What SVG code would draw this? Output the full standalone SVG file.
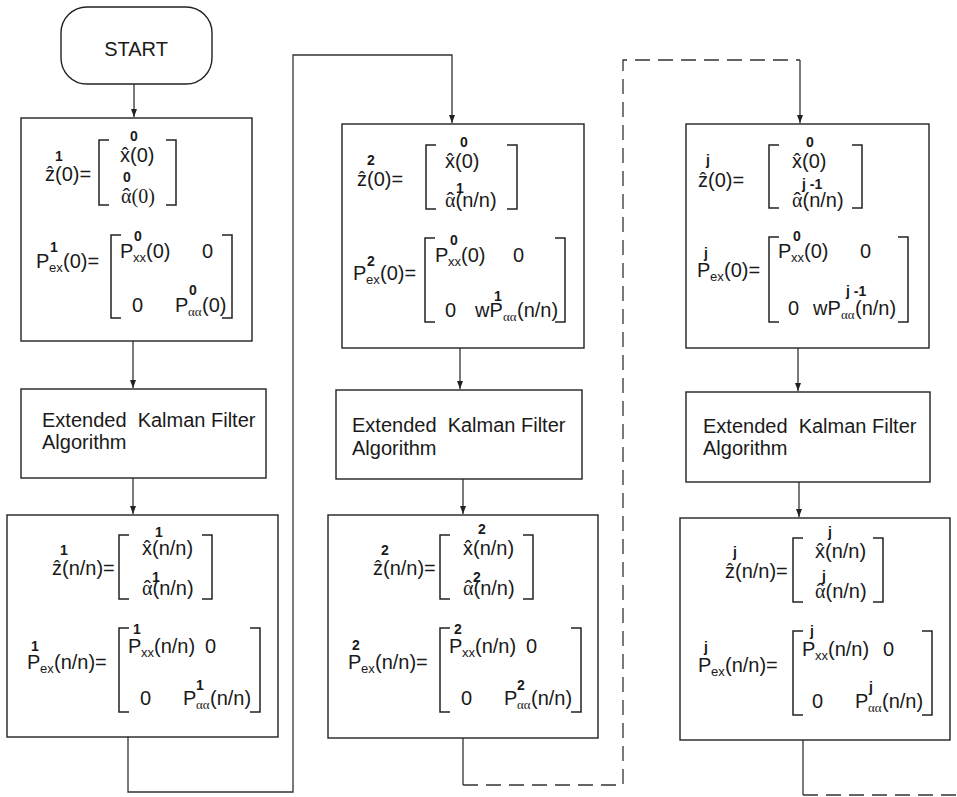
<svg xmlns="http://www.w3.org/2000/svg" width="957" height="797" viewBox="0 0 957 797">
<style>
text{font-family:"Liberation Sans",Arial,sans-serif;fill:#1a1a1a;font-size:20px}
.h{font-size:22px;font-family:"Liberation Sans",Arial,sans-serif}
.s{font-size:14px;font-weight:bold;font-family:"Liberation Sans",Arial,sans-serif}
.b{font-size:13px}
.g{font-family:"Liberation Serif","Times New Roman",serif}
.box{fill:#fff;stroke:#222;stroke-width:1.4}
.br{fill:none;stroke:#222;stroke-width:1.5}
.ln{fill:none;stroke:#333;stroke-width:1.3}
.da{stroke-dasharray:15 8}
</style>
<defs>
<marker id="ah" markerUnits="userSpaceOnUse" markerWidth="8" markerHeight="8" refX="8" refY="3" orient="auto">
<path d="M0,0 L8,3 L0,6 z" fill="#222"/>
</marker>
</defs>

<g id="connectors">
<path class="ln" d="M134,84 V117" marker-end="url(#ah)"/>
<path class="ln" d="M133,341 V388" marker-end="url(#ah)"/>
<path class="ln" d="M133,478 V514" marker-end="url(#ah)"/>
<path class="ln" d="M128,737 V792 H293 V55 H452 V123" marker-end="url(#ah)"/>
<path class="ln" d="M460,348 V389" marker-end="url(#ah)"/>
<path class="ln" d="M463,479 V514" marker-end="url(#ah)"/>
<path class="ln" d="M463,738 V785"/>
<path class="ln da" d="M463,785 H623 V60 H800"/>
<path class="ln" d="M800,60 V123" marker-end="url(#ah)"/>
<path class="ln" d="M798,348 V391" marker-end="url(#ah)"/>
<path class="ln" d="M799,482 V517" marker-end="url(#ah)"/>
<path class="ln" d="M803,740 V795"/>
<path class="ln da" d="M803,795 H957"/>
</g>

<g id="start">
<rect class="box" x="61" y="7" width="151" height="77" rx="26" ry="26"/>
<text x="136" y="56" font-size="19" text-anchor="middle">START</text>
</g>

<g id="init1" transform="translate(21,118)">
<rect class="box" x="0" y="0" width="231" height="223"/>
<text x="24" y="63">z&#x302;(0)=<tspan class="s" x="34" y="43">1</tspan></text>
<path class="br" d="M88,22 H78 V87 H88"/>
<path class="br" d="M145,22 H155 V87 H145"/>
<text x="99" y="44">x&#x302;(0)<tspan class="s" x="109" y="23">0</tspan></text>
<text class="g" x="100" y="85">α(0)<tspan class="h" x="101.8" y="86">ˆ</tspan><tspan class="s" x="102" y="64">0</tspan></text>
<text x="15" y="150">P<tspan class="s" x="29" y="134">1</tspan><tspan class="b" x="28" y="154">ex</tspan><tspan x="42" y="150">(0)=</tspan></text>
<path class="br" d="M100,117 H90 V200 H100"/>
<path class="br" d="M201,117 H211 V200 H201"/>
<text x="99" y="140">P<tspan class="s" x="113" y="123">0</tspan><tspan class="b" x="112" y="144">xx</tspan><tspan x="125" y="140">(0)</tspan></text>
<text x="181" y="140">0</text>
<text x="111" y="194">0</text>
<text x="154" y="194">P<tspan class="s" x="168" y="177">0</tspan><tspan class="b g" x="167" y="198">αα</tspan><tspan x="181" y="194">(0)</tspan></text>
</g>

<g id="ekf1">
<rect class="box" x="21" y="389" width="245" height="89"/>
<text x="42" y="427" xml:space="preserve">Extended  Kalman Filter</text>
<text x="42" y="449">Algorithm</text>
</g>

<g id="result1" transform="translate(7,515)">
<rect class="box" x="0" y="0" width="271" height="222"/>
<text x="45" y="60">z&#x302;(n/n)=<tspan class="s" x="53" y="40">1</tspan></text>
<path class="br" d="M122,20 H112 V84 H122"/>
<path class="br" d="M195,20 H205 V84 H195"/>
<text x="135" y="40">x&#x302;(n/n)<tspan class="s" x="148" y="22">1</tspan></text>
<text x="135" y="80"><tspan class="g">α</tspan>(n/n)<tspan class="h" x="136.8" y="81">ˆ</tspan><tspan class="s" x="145" y="67">1</tspan></text>
<text x="20" y="154">P<tspan class="s" x="24" y="136">1</tspan><tspan class="b" x="33" y="158">ex</tspan><tspan x="47" y="154">(n/n)=</tspan></text>
<path class="br" d="M122,113 H112 V197 H122"/>
<path class="br" d="M243,113 H253 V197 H243"/>
<text x="121" y="138">P<tspan class="s" x="126" y="119">1</tspan><tspan class="b" x="134" y="142">xx</tspan><tspan x="147" y="138">(n/n)</tspan></text>
<text x="198" y="138">0</text>
<text x="133" y="190">0</text>
<text x="176" y="190">P<tspan class="s" x="189" y="175">1</tspan><tspan class="b g" x="189" y="194">αα</tspan><tspan x="203" y="190">(n/n)</tspan></text>
</g>

<g id="init2" transform="translate(342,124)">
<rect class="box" x="0" y="0" width="242" height="224"/>
<text x="15" y="62">z&#x302;(0)=<tspan class="s" x="25" y="41">2</tspan></text>
<path class="br" d="M94,21 H84 V85 H94"/>
<path class="br" d="M165,21 H175 V85 H165"/>
<text x="103" y="44">x&#x302;(0)<tspan class="s" x="118" y="23">0</tspan></text>
<text x="103" y="83"><tspan class="g">α</tspan>(n/n)<tspan class="h" x="104.8" y="84">ˆ</tspan><tspan class="s" x="114" y="69">1</tspan></text>
<text x="11" y="156">P<tspan class="s" x="25" y="142">2</tspan><tspan class="b" x="24" y="160">ex</tspan><tspan x="38" y="156">(0)=</tspan></text>
<path class="br" d="M93,114 H83 V198 H93"/>
<path class="br" d="M213,114 H223 V198 H213"/>
<text x="93" y="138">P<tspan class="s" x="108" y="121">0</tspan><tspan class="b" x="106" y="142">xx</tspan><tspan x="119" y="138">(0)</tspan></text>
<text x="171" y="138">0</text>
<text x="103" y="193">0</text>
<text x="133" y="193">wP<tspan class="s" x="152" y="177">1</tspan><tspan class="b g" x="161" y="197">αα</tspan><tspan x="175" y="193">(n/n)</tspan></text>
</g>

<g id="ekf2">
<rect class="box" x="336" y="390" width="246" height="89"/>
<text x="352" y="432" xml:space="preserve">Extended  Kalman Filter</text>
<text x="352" y="455">Algorithm</text>
</g>

<g id="result2" transform="translate(328,515)">
<rect class="box" x="0" y="0" width="270" height="223"/>
<text x="45" y="60">z&#x302;(n/n)=<tspan class="s" x="53" y="40">2</tspan></text>
<path class="br" d="M122,20 H112 V84 H122"/>
<path class="br" d="M195,20 H205 V84 H195"/>
<text x="135" y="40">x&#x302;(n/n)<tspan class="s" x="150" y="19">2</tspan></text>
<text x="135" y="80"><tspan class="g">α</tspan>(n/n)<tspan class="h" x="136.8" y="81">ˆ</tspan><tspan class="s" x="145" y="67">2</tspan></text>
<text x="20" y="154">P<tspan class="s" x="24" y="135">2</tspan><tspan class="b" x="33" y="158">ex</tspan><tspan x="47" y="154">(n/n)=</tspan></text>
<path class="br" d="M122,113 H112 V197 H122"/>
<path class="br" d="M243,113 H253 V197 H243"/>
<text x="121" y="138">P<tspan class="s" x="126" y="119">2</tspan><tspan class="b" x="134" y="142">xx</tspan><tspan x="147" y="138">(n/n)</tspan></text>
<text x="198" y="138">0</text>
<text x="133" y="190">0</text>
<text x="176" y="190">P<tspan class="s" x="189" y="175">2</tspan><tspan class="b g" x="189" y="194">αα</tspan><tspan x="203" y="190">(n/n)</tspan></text>
</g>

<g id="init3" transform="translate(686,124)">
<rect class="box" x="0" y="0" width="243" height="224"/>
<text x="12" y="63">z&#x302;(0)=<tspan class="s" x="20" y="41">j</tspan></text>
<path class="br" d="M93,21 H83 V84 H93"/>
<path class="br" d="M166,21 H176 V84 H166"/>
<text x="106" y="44">x&#x302;(0)<tspan class="s" x="120" y="23">0</tspan></text>
<text x="106" y="83"><tspan class="g">α</tspan>(n/n)<tspan class="h" x="107.8" y="84">ˆ</tspan><tspan class="s" x="116" y="65" xml:space="preserve">j -1</tspan></text>
<text x="11" y="153">P<tspan class="s" x="18" y="134">j</tspan><tspan class="b" x="24" y="157">ex</tspan><tspan x="38" y="153">(0)=</tspan></text>
<path class="br" d="M93,113 H83 V198 H93"/>
<path class="br" d="M212,113 H222 V198 H212"/>
<text x="92" y="134">P<tspan class="s" x="107" y="117">0</tspan><tspan class="b" x="105" y="138">xx</tspan><tspan x="118" y="134">(0)</tspan></text>
<text x="174" y="134">0</text>
<text x="102" y="191">0</text>
<text x="127" y="191">wP<tspan class="s" x="160" y="172" xml:space="preserve">j -1</tspan><tspan class="b g" x="155" y="195">αα</tspan><tspan x="169" y="191">(n/n)</tspan></text>
</g>

<g id="ekf3">
<rect class="box" x="686" y="392" width="244" height="90"/>
<text x="703" y="433" xml:space="preserve">Extended  Kalman Filter</text>
<text x="703" y="455">Algorithm</text>
</g>

<g id="result3" transform="translate(680,518)">
<rect class="box" x="0" y="0" width="270" height="222"/>
<text x="45" y="60">z&#x302;(n/n)=<tspan class="s" x="53" y="39">j</tspan></text>
<path class="br" d="M123,20 H113 V84 H123"/>
<path class="br" d="M193,20 H203 V84 H193"/>
<text x="135" y="40">x&#x302;(n/n)<tspan class="s" x="148" y="19">j</tspan></text>
<text x="135" y="80"><tspan class="g">α</tspan>(n/n)<tspan class="h" x="136.8" y="81">ˆ</tspan><tspan class="s" x="142" y="63">j</tspan></text>
<text x="18" y="154">P<tspan class="s" x="24" y="134">j</tspan><tspan class="b" x="31" y="158">ex</tspan><tspan x="45" y="154">(n/n)=</tspan></text>
<path class="br" d="M123,113 H113 V197 H123"/>
<path class="br" d="M242,113 H252 V197 H242"/>
<text x="122" y="138">P<tspan class="s" x="130" y="118">j</tspan><tspan class="b" x="135" y="142">xx</tspan><tspan x="148" y="138">(n/n)</tspan></text>
<text x="203" y="138">0</text>
<text x="132" y="190">0</text>
<text x="175" y="190">P<tspan class="s" x="189" y="174">j</tspan><tspan class="b g" x="188" y="194">αα</tspan><tspan x="202" y="190">(n/n)</tspan></text>
</g>
</svg>
